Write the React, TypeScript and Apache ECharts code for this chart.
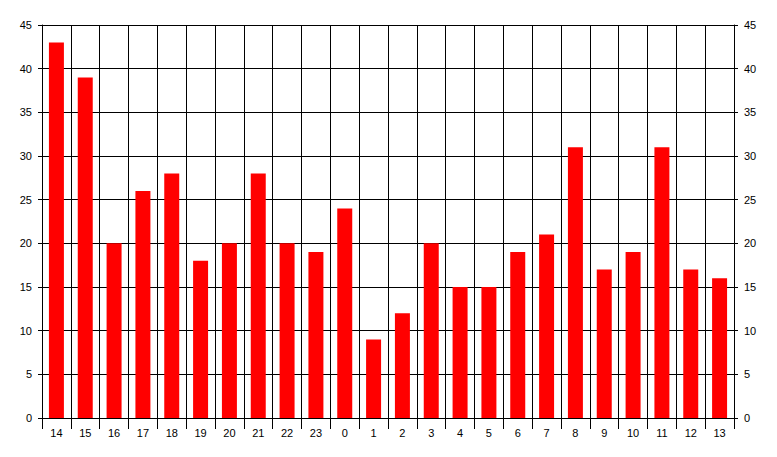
import React, { useEffect, useRef } from "react";
import * as echarts from "echarts";

const categories = ["14","15","16","17","18","19","20","21","22","23","0","1","2","3","4","5","6","7","8","9","10","11","12","13"];
const values = [43,39,20,26,28,18,20,28,20,19,24,9,12,20,15,15,19,21,31,17,19,31,17,16];
const yMin = 0;
const yMax = 45;
const yInterval = 5;

export default function App() {
  const ref = useRef<HTMLDivElement>(null);
  useEffect(() => {
    if (!ref.current) return;
    const chart = echarts.init(ref.current, null, { renderer: "svg" });
    const yAxisCommon = {
      type: "value" as const,
      min: yMin,
      max: yMax,
      interval: yInterval,
      axisLine: { show: true, lineStyle: { color: "#000", width: 1 } },
      axisTick: { show: true, length: 4, lineStyle: { color: "#000" } },
      axisLabel: { color: "#000", fontFamily: "Liberation Sans, Arial", fontSize: 11, margin: 10 },
      splitLine: { show: true, lineStyle: { color: "#000", width: 1 } },
    };
    chart.setOption({
      animation: false,
      backgroundColor: "#fff",
      grid: { left: 42, right: 43, top: 25, bottom: 39, containLabel: false },
      xAxis: {
        type: "category",
        data: categories,
        boundaryGap: true,
        axisLine: { show: true, lineStyle: { color: "#000", width: 1 } },
        axisTick: { show: true, length: 11, interval: 0, alignWithLabel: false, lineStyle: { color: "#000" } },
        axisLabel: { color: "#000", fontFamily: "Liberation Sans, Arial", fontSize: 11, margin: 9, interval: 0 },
        splitLine: { show: true, interval: 0, lineStyle: { color: "#000", width: 1 } },
      },
      yAxis: [
        { ...yAxisCommon, position: "left" },
        { ...yAxisCommon, position: "right", splitLine: { show: false } },
      ],
      series: [
        {
          type: "bar",
          data: values,
          yAxisIndex: 0,
          barWidth: "52%",
          itemStyle: { color: "#ff0000" },
        },
      ],
    });
    return () => chart.dispose();
  }, []);
  return <div ref={ref} style={{ width: 777, height: 457, position: "absolute", left: 0, top: 0 }} />;
}
